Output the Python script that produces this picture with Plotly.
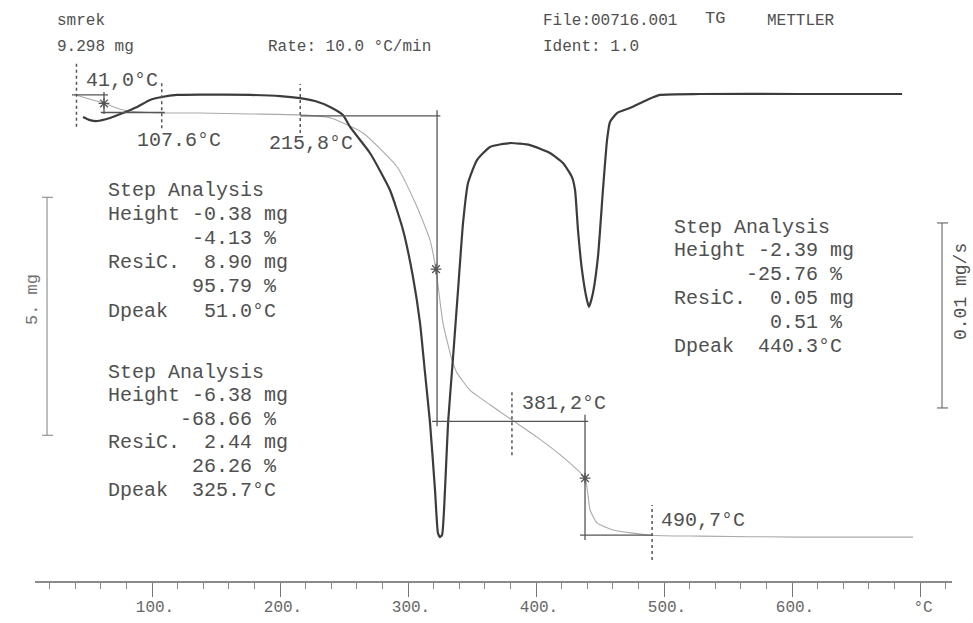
import plotly.graph_objects as go

# ---------------- data ----------------
# TG curve: temperature (°C) vs sample mass (mg)
tg_temp = [40.5, 51.6, 62.5, 75.0, 90.6, 108.6, 137.5, 176.6, 215.6, 239.1, 264.8,
           291.4, 307.0, 317.2, 321.9, 327.3, 334.4, 338.3, 348.4, 364.1, 381.3,
           400.8, 421.1, 438.3, 440.6, 442.2, 447.7, 460.2, 489.1, 528.1, 606.3, 694.5]
tg_mass = [9.30, 9.21, 9.13, 9.00, 8.94, 8.92, 8.92, 8.90, 8.88, 8.82, 8.50,
           7.79, 6.95, 6.25, 5.62, 4.51, 3.73, 3.46, 3.10, 2.79, 2.47,
           2.11, 1.69, 1.25, 0.90, 0.58, 0.31, 0.16, 0.05, 0.03, 0.01, 0.01]

# DTG curve: temperature (°C) vs mass-loss rate (mg/s)
dtg_temp = [46.1, 51.6, 57.0, 67.2, 77.3, 88.3, 98.4, 107.8, 119.5, 137.5, 176.6, 200.0,
            215.6, 227.3, 239.1, 249.2, 254.7, 270.3, 285.9, 296.1, 303.9, 309.4, 313.3,
            317.2, 321.1, 323.4, 325.0, 326.6, 328.9, 331.3, 335.2, 339.1, 343.0, 346.9,
            353.9, 364.1, 379.7, 395.3, 410.9, 421.1, 428.1, 430.5, 432.8, 435.9, 439.8,
            441.4, 444.5, 448.4, 452.3, 455.5, 457.8, 463.3, 473.4, 486.7, 496.9, 528.1,
            606.3, 686.0]
dtg_rate = [-0.00124, -0.00141, -0.00146, -0.00130, -0.00103, -0.00070, -0.00032, -0.00016,
            -0.00005, -0.00003, -0.00005, -0.00011, -0.00022, -0.00038, -0.00070, -0.00114,
            -0.00178, -0.00319, -0.00519, -0.00735, -0.00989, -0.01238, -0.01508, -0.01778,
            -0.02141, -0.02373, -0.02395, -0.02384, -0.02141, -0.01778, -0.01422, -0.01059,
            -0.00697, -0.00481, -0.00357, -0.00286, -0.00265, -0.00276, -0.00319, -0.00373,
            -0.00449, -0.00519, -0.00735, -0.00951, -0.01114, -0.01151, -0.01076, -0.00881,
            -0.00519, -0.00249, -0.00151, -0.00103, -0.00076, -0.00032, -0.00005, 0.0, 0.0, 0.0]

# step-analysis midpoints (asterisks)
mid_temp = [62.5, 321.9, 438.3]
mid_mass = [9.12, 5.64, 1.25]

# onset / endset temperatures (dashed markers) and their labels
onset_temp = [41.0, 107.6, 215.8, 381.2, 490.7]
onset_ylo = [8.63, 8.60, 8.50, 1.73, -0.47]
onset_yhi = [9.97, 9.61, 9.53, 3.06, 0.685]
onset_labels = ["41,0°C", "107.6°C", "215,8°C", "381,2°C", "490,7°C"]

# step construction lines: (x0, x1, y0, y1) in °C / mg
step_lines = [
    (37.5, 65.6, 9.30, 9.30), (62.5, 62.5, 9.36, 8.90), (60.0, 110.0, 8.93, 8.93),
    (215.8, 325.3, 8.86, 8.86), (322.7, 322.7, 8.98, 2.34), (318.8, 440.8, 2.44, 2.44),
    (438.3, 438.3, 2.58, -0.05), (434.4, 491.4, 0.05, 0.05),
]

# x-axis ticks
tick_vals = [100, 200, 300, 400, 500, 600, 700]
tick_text = ["100.", "200.", "300.", "400.", "500.", "600.", "°C"]

# step analysis text blocks
block1 = ["Step Analysis", "Height -0.38 mg", "       -4.13 %", "ResiC.  8.90 mg",
          "       95.79 %", "Dpeak   51.0°C"]
block2 = ["Step Analysis", "Height -6.38 mg", "      -68.66 %", "ResiC.  2.44 mg",
          "       26.26 %", "Dpeak  325.7°C"]
block3 = ["Step Analysis", "Height -2.39 mg", "      -25.76 %", "ResiC.  0.05 mg",
          "        0.51 %", "Dpeak  440.3°C"]

# ---------------- figure ----------------
FONT = "Liberation Mono, DejaVu Sans Mono, monospace"
TXT = "#505050"
LINE = "#555555"

W, H = 973, 623
ML, MR, MT, MB = 35, 21, 0, 42
PW, PH = W - ML - MR, H - MT - MB


def P(px, py):
    return dict(xref="paper", yref="paper", x=(px - ML) / PW, y=(MT + PH - py) / PH)


fig = go.Figure()

fig.add_trace(go.Scatter(x=tg_temp, y=tg_mass, mode="lines",
                         line=dict(color="#aaaaaa", width=1.1, shape="spline", smoothing=0.5),
                         showlegend=False, hoverinfo="skip"))
fig.add_trace(go.Scatter(x=dtg_temp, y=dtg_rate, mode="lines", yaxis="y2",
                         line=dict(color="#3c3c3c", width=2.2, shape="spline", smoothing=0.5),
                         showlegend=False, hoverinfo="skip"))
fig.add_trace(go.Scatter(x=mid_temp, y=mid_mass, mode="markers",
                         marker=dict(symbol="asterisk-open", size=9, color="#555555",
                                     line=dict(color="#555555", width=1.3)),
                         showlegend=False, hoverinfo="skip"))

shapes = []
for x0, x1, y0, y1 in step_lines:
    shapes.append(dict(type="line", xref="x", yref="y", x0=x0, x1=x1, y0=y0, y1=y1,
                       line=dict(color=LINE, width=1.3)))
for t, lo, hi in zip(onset_temp, onset_ylo, onset_yhi):
    shapes.append(dict(type="line", xref="x", yref="y", x0=t, x1=t, y0=lo, y1=hi,
                       line=dict(color=LINE, width=1.5, dash="dot")))

# scale bars: 5 mg (TG) and 0.01 mg/s (DTG)
shapes += [
    dict(type="line", xref="x", yref="y", x0=18.0, x1=18.0, y0=7.15, y1=2.15,
         line=dict(color="#808080", width=1)),
    dict(type="line", xref="x", yref="y", x0=14.1, x1=22.7, y0=7.15, y1=7.15,
         line=dict(color="#808080", width=1)),
    dict(type="line", xref="x", yref="y", x0=14.1, x1=22.7, y0=2.15, y1=2.15,
         line=dict(color="#808080", width=1)),
    dict(type="line", xref="x", yref="y2", x0=717.2, x1=717.2, y0=-0.00697, y1=-0.01697,
         line=dict(color="#707070", width=1.2)),
    dict(type="line", xref="x", yref="y2", x0=713.3, x1=721.9, y0=-0.00697, y1=-0.00697,
         line=dict(color="#707070", width=1.2)),
    dict(type="line", xref="x", yref="y2", x0=713.3, x1=721.9, y0=-0.01697, y1=-0.01697,
         line=dict(color="#707070", width=1.2)),
]

ann = []


def text(s, px, py, size, anchor="left", angle=0, color=TXT):
    d = P(px, py)
    d.update(text=s, showarrow=False, xanchor=anchor, yanchor="middle",
             font=dict(family=FONT, size=size, color=color), textangle=angle)
    ann.append(d)


# header
text("smrek", 55, 21, 16)
text("9.298 mg", 55, 47, 16)
text("Rate: 10.0 °C/min", 266, 47, 16)
text("File:00716.001", 541, 21, 16)
text("TG", 703, 19, 17)
text("METTLER", 765, 21, 16)
text("Ident: 1.0", 541, 47, 16)

# onset labels
label_pos = [(84, 80), (135, 140), (267, 143), (520, 403), (659, 520)]
for s, (px, py) in zip(onset_labels, label_pos):
    text(s, px, py, 20)

# step blocks
for i, s in enumerate(block1):
    text(s, 106, 190 + 24.2 * i, 20)
for i, s in enumerate(block2):
    text(s, 106, 372 + 23.6 * i, 20)
for i, s in enumerate(block3):
    text(s, 672, 227 + 23.8 * i, 20)

# scale bar labels
text("5. mg", 33, 300, 17, anchor="center", angle=-90, color="#707070")
text("0.01 mg/s", 961, 292, 18, anchor="center", angle=-90)

fig.update_layout(
    width=W, height=H,
    margin=dict(l=ML, r=MR, t=MT, b=MB),
    paper_bgcolor="white", plot_bgcolor="white",
    shapes=shapes, annotations=ann,
    xaxis=dict(range=[8.594, 725.0], showgrid=False, zeroline=False,
               showline=True, linecolor="#8a8a8a", linewidth=1.5,
               tickmode="array", tickvals=tick_vals, ticktext=tick_text,
               ticks="outside", ticklen=14, tickwidth=1, tickcolor="#777",
               tickfont=dict(family=FONT, size=16, color="#666"),
               ticklabelstandoff=-4, ticklabelshift=3,
               minor=dict(tickmode="linear", tick0=0, dtick=20, ticks="outside",
                          ticklen=6, tickwidth=1, tickcolor="#888"),
               fixedrange=True),
    yaxis=dict(range=[-0.912, 11.2938], visible=False, fixedrange=True),
    yaxis2=dict(range=[-0.026324, 0.005081], overlaying="y", visible=False,
                fixedrange=True),
    showlegend=False,
)

fig.write_html("out.html", config={"displayModeBar": False},
               post_script="document.body.style.margin='0';document.body.style.overflow='hidden';")
